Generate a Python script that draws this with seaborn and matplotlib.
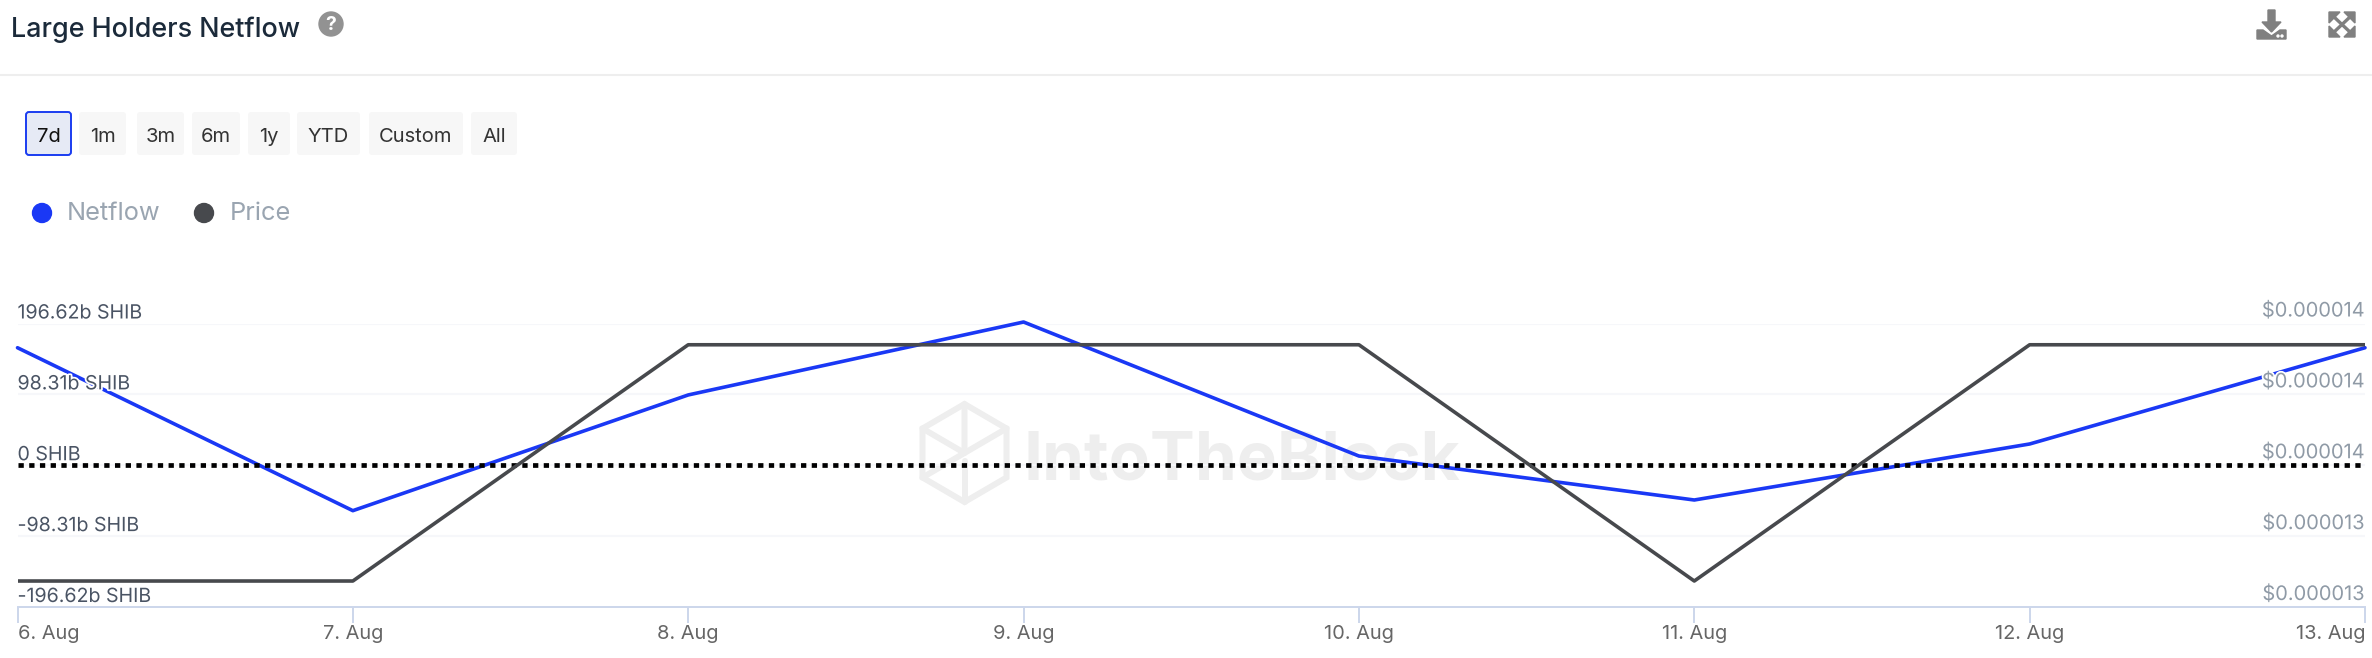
import pandas as pd
import numpy as np
import matplotlib
matplotlib.use('Agg')
import matplotlib.pyplot as plt
import matplotlib.patheffects as pe
from matplotlib.patches import Circle, FancyBboxPatch, Polygon
from matplotlib.transforms import ScaledTranslation
import seaborn as sns

dias = ['2024-08-06', '2024-08-07', '2024-08-08', '2024-08-09',
        '2024-08-10', '2024-08-11', '2024-08-12', '2024-08-13']
etiquetas_x = ['6. Aug', '7. Aug', '8. Aug', '9. Aug', '10. Aug', '11. Aug', '12. Aug', '13. Aug']
netflow = [163, -63, 97.5, 198.7, 12.8, -48.2, 29.5, 163]
precio = [0.00001311, 0.00001311, 0.00001411, 0.00001411, 0.00001411, 0.00001311, 0.00001411, 0.00001411]
ticks_netflow = [-196.62, -98.31, 0, 98.31, 196.62]
etiquetas_netflow = ['-196.62b SHIB', '-98.31b SHIB', '0 SHIB', '98.31b SHIB', '196.62b SHIB']
ticks_precio = [0.0000130, 0.0000133, 0.0000136, 0.0000139, 0.0000142]
etiquetas_precio = ['$0.000013', '$0.000013', '$0.000014', '$0.000014', '$0.000014']
botones = ['7d', '1m', '3m', '6m', '1y', 'YTD', 'Custom', 'All']
botones_x = [(26, 71), (79, 126), (137, 184), (192, 240), (248, 290), (297, 360), (369, 463), (471, 517)]

AZUL = '#1a38f5'
GRIS = '#47494d'
W, H = 2372, 658

df = pd.DataFrame({'fecha': pd.to_datetime(dias), 'netflow': netflow, 'precio': precio})

sns.set_theme(style='white')
plt.rcParams['font.family'] = ['Inter', 'DejaVu Sans']

fig = plt.figure(figsize=(W / 100, H / 100), dpi=100, facecolor='white')

# Fondo en pixeles: cabecera, botones, leyenda y marca de agua
bg = fig.add_axes([0, 0, 1, 1], zorder=0)
bg.set_xlim(0, W)
bg.set_ylim(H, 0)
bg.axis('off')

bg.text(11, 29.5, 'Large Holders Netflow', fontsize=19.4, fontweight=500, color='#1b2a3a', va='center')
bg.add_patch(Circle((331, 24), 12, color='#929292'))
bg.text(331, 24.5, '?', fontsize=14, fontweight='bold', color='white', ha='center', va='center')
bg.plot([0, W], [75, 75], color='#eeeeee', lw=1.5)

# iconos de descarga y pantalla completa
bg.add_patch(Polygon([(2268, 10), (2275, 10), (2275, 22), (2281, 22), (2271.5, 32), (2262, 22), (2268, 22)], color='#808080'))
bg.add_patch(Polygon([(2257, 30), (2263, 30), (2271.5, 36), (2280, 30), (2286, 30), (2286, 39), (2257, 39)], color='#808080'))
bg.add_patch(Circle((2278, 36), 1, color='white'))
bg.add_patch(Circle((2282, 36), 1, color='white'))
bg.plot([2333, 2351], [16, 33], color='#808080', lw=2.4)
bg.plot([2333, 2351], [33, 16], color='#808080', lw=2.4)
for cx, cy, sx, sy in [(2329, 12, 1, 1), (2355, 12, -1, 1), (2329, 37, 1, -1), (2355, 37, -1, -1)]:
    bg.add_patch(Polygon([(cx, cy), (cx + 11 * sx, cy), (cx, cy + 11 * sy)], color='#808080'))

for nombre, (x0, x1) in zip(botones, botones_x):
    activo = nombre == '7d'
    bg.add_patch(FancyBboxPatch((x0 + 2, 114), x1 - x0 - 4, 39, boxstyle='round,pad=2,rounding_size=3',
                                facecolor='#e6eaf5' if activo else '#f7f7f7',
                                edgecolor='#1a3cf0' if activo else 'none', lw=1.4))
    bg.text((x0 + x1) / 2, 137, nombre, fontsize=14.5, color='#111111' if activo else '#333333',
            ha='center', va='center')

bg.add_patch(Circle((42, 213), 9.5, color=AZUL))
bg.text(67, 213.5, 'Netflow', fontsize=18.3, color='#9aa5b1', va='center')
bg.add_patch(Circle((204, 213), 9.5, color=GRIS))
bg.text(230, 213.5, 'Price', fontsize=18.3, color='#9aa5b1', va='center')

# marca de agua
bg.text(1024, 480, 'IntoTheBlock', fontsize=48.5, fontweight='bold', color='#eeeeee', va='baseline')
hx, hy, hw, hh = 964.5, 453, 42, 49
hexagono = [(hx, hy - hh), (hx + hw, hy - hh / 2), (hx + hw, hy + hh / 2), (hx, hy + hh), (hx - hw, hy + hh / 2), (hx - hw, hy - hh / 2)]
bg.add_patch(Polygon(hexagono, closed=True, fill=False, edgecolor='#eeeeee', lw=4.3))
bg.plot([hx, hx, hx - hw], [hy - hh, hy, hy - hh / 2], color='#eeeeee', lw=4.3)
bg.plot([hx - hw, hx + hw], [hy + hh / 2, hy - hh / 2], color='#eeeeee', lw=4.3)
bg.plot([hx, hx], [hy + 8, hy + hh], color='#eeeeee', lw=4.3)

# Grafico principal
izq, der, arriba, abajo = 17.5, 2365, 323.5, 607
ax = fig.add_axes([izq / W, 1 - abajo / H, (der - izq) / W, (abajo - arriba) / H], zorder=1)
ax.patch.set_alpha(0)
for v in ticks_netflow[1:]:
    ax.axhline(v, color='#f6f7fa', lw=1.6, zorder=0.5)

sns.lineplot(data=df, x='fecha', y='netflow', ax=ax, color=AZUL, lw=2.6, legend=False, zorder=2, clip_on=False)
ax.axhline(0, color='black', lw=3.4, linestyle=(0, (1.12, 1.15)), zorder=3)

ax.set_xlim(df['fecha'].iloc[0], df['fecha'].iloc[-1])
ax.set_ylim(ticks_netflow[0], ticks_netflow[-1])
ax.set_xlabel('')
ax.set_ylabel('')
ax.set_axisbelow(False)
ax.grid(False)
for s in ['top', 'left', 'right']:
    ax.spines[s].set_visible(False)
ax.spines['bottom'].set_color('#ccd6eb')
ax.spines['bottom'].set_linewidth(1.4)

ax.set_xticks(df['fecha'])
ax.set_xticklabels(etiquetas_x)
ax.tick_params(axis='x', bottom=True, length=11.5, width=1.4, color='#ccd6eb', labelcolor='#666666', labelsize=14.4, pad=1.2)
xlabels = ax.get_xticklabels()
xlabels[0].set_ha('left')
xlabels[-1].set_ha('right')

ax.set_yticks(ticks_netflow)
ax.set_yticklabels(etiquetas_netflow)
ax.tick_params(axis='y', length=0, pad=0, labelsize=14.1, labelcolor='#4a5464')
sube = ScaledTranslation(0, 5 / 100, fig.dpi_scale_trans)
halo = [pe.withStroke(linewidth=2.5, foreground='white')]
for t in ax.get_yticklabels():
    t.set_ha('left')
    t.set_va('baseline')
    t.set_transform(t.get_transform() + sube)
    t.set_path_effects(halo)

ax2 = ax.twinx()
ax2.patch.set_alpha(0)
sns.lineplot(data=df, x='fecha', y='precio', ax=ax2, color=GRIS, lw=2.6, legend=False, zorder=2)
ax2.set_ylim(ticks_precio[0], ticks_precio[-1])
ax2.set_ylabel('')
ax2.set_axisbelow(False)
ax2.grid(False)
for s in ax2.spines.values():
    s.set_visible(False)
ax2.set_yticks(ticks_precio)
ax2.set_yticklabels(etiquetas_precio)
ax2.tick_params(axis='y', length=0, pad=0, labelsize=14.4, labelcolor='#8f9aa6')
sube2 = ScaledTranslation(0, 7 / 100, fig.dpi_scale_trans)
for t in ax2.get_yticklabels():
    t.set_ha('right')
    t.set_va('baseline')
    t.set_transform(t.get_transform() + sube2)
    t.set_path_effects(halo)

fig.savefig('out.png', dpi=100)
